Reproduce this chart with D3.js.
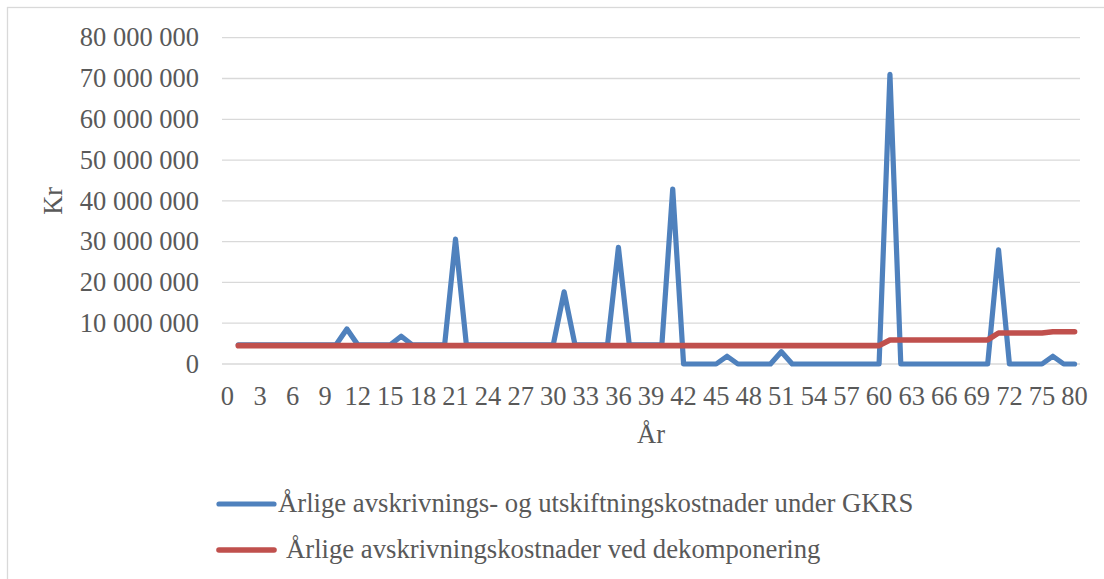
<!DOCTYPE html>
<html>
<head>
<meta charset="utf-8">
<script src="https://cdn.jsdelivr.net/npm/d3@7/dist/d3.min.js"></script>
<style>
  html, body { margin: 0; padding: 0; background: #fff; }
  text { font-family: "Liberation Serif", "Times New Roman", serif; fill: #595959; }
</style>
</head>
<body>
<svg id="chart" width="1104" height="579"></svg>
<script>
// Year labels on the category axis
const years = [
  0, 1, 2, 3, 4, 5, 6, 7, 8, 9, 10, 11, 12, 13, 14, 15, 16, 17, 18, 19,
  20, 21, 22, 23, 24, 25, 26, 27, 28, 29, 30, 31, 32, 33, 34, 35, 36, 37, 38, 39,
  40, 41, 42, 43, 44, 45, 46, 47, 48, 49, 50, 51, 52, 53, 54, 55, 56, 57, 58, 59,
  60, 61, 62, 63, 64, 65, 66, 67, 68, 69, 70, 71, 72, 73, 74, 75, 76, 77, 80
];

// Annual depreciation and replacement costs under GKRS (kr)
const gkrs = [
  null, 4700000, 4700000, 4700000, 4700000, 4700000, 4700000, 4700000, 4700000, 4700000,
  4700000, 8600000, 4700000, 4700000, 4700000, 4700000, 6800000, 4700000, 4700000, 4700000,
  4700000, 30600000, 4700000, 4700000, 4700000, 4700000, 4700000, 4700000, 4700000, 4700000,
  4700000, 17700000, 4700000, 4700000, 4700000, 4700000, 28600000, 4700000, 4700000, 4700000,
  4700000, 42900000, 0, 0, 0, 0, 1900000, 0, 0, 0,
  0, 3000000, 0, 0, 0, 0, 0, 0, 0, 0,
  0, 71000000, 0, 0, 0, 0, 0, 0, 0, 0,
  0, 28000000, 0, 0, 0, 0, 1900000, 0, 0
];

// Annual depreciation costs with decomposition (kr)
const dekomp = [
  null, 4500000, 4500000, 4500000, 4500000, 4500000, 4500000, 4500000, 4500000, 4500000,
  4500000, 4500000, 4500000, 4500000, 4500000, 4500000, 4500000, 4500000, 4500000, 4500000,
  4500000, 4500000, 4500000, 4500000, 4500000, 4500000, 4500000, 4500000, 4500000, 4500000,
  4500000, 4500000, 4500000, 4500000, 4500000, 4500000, 4500000, 4500000, 4500000, 4500000,
  4500000, 4500000, 4500000, 4500000, 4500000, 4500000, 4500000, 4500000, 4500000, 4500000,
  4500000, 4500000, 4500000, 4500000, 4500000, 4500000, 4500000, 4500000, 4500000, 4500000,
  4500000, 5900000, 5900000, 5900000, 5900000, 5900000, 5900000, 5900000, 5900000, 5900000,
  5900000, 7600000, 7600000, 7600000, 7600000, 7600000, 7900000, 7900000, 7900000
];

const yTicks = [0, 10000000, 20000000, 30000000, 40000000, 50000000, 60000000, 70000000, 80000000];

const seriesNames = [
  "Årlige avskrivnings- og utskiftningskostnader under GKRS",
  "Årlige avskrivningskostnader ved dekomponering"
];
const seriesColors = ["#4f81bd", "#c0504d"];
const seriesWidths = [5.2, 5.6];

const svg = d3.select("#chart");
const FONT = 26.5;

// outer chart border
svg.append("rect")
  .attr("x", 7.5).attr("y", 7.5)
  .attr("width", 1120).attr("height", 600)
  .attr("fill", "#fff")
  .attr("stroke", "#d9d9d9").attr("stroke-width", 1.3);

const plot = { left: 222, right: 1080, top: 37.7, bottom: 364 };

const x = d3.scalePoint()
  .domain(d3.range(years.length))
  .range([plot.left, plot.right])
  .padding(0.5);

const y = d3.scaleLinear()
  .domain([0, 80000000])
  .range([plot.bottom, plot.top]);

const nb = d3.formatLocale({ decimal: ",", thousands: "\u00a0", grouping: [3], currency: ["", " kr"] });
const fmt = nb.format(",d");

// horizontal gridlines
svg.append("g").selectAll("line")
  .data(yTicks)
  .join("line")
  .attr("x1", plot.left).attr("x2", plot.right)
  .attr("y1", d => y(d)).attr("y2", d => y(d))
  .attr("stroke", "#d9d9d9").attr("stroke-width", 1.3);

// y tick labels
svg.append("g").selectAll("text")
  .data(yTicks)
  .join("text")
  .attr("x", 199)
  .attr("y", d => y(d) + FONT * 0.33)
  .attr("text-anchor", "end")
  .attr("font-size", FONT)
  .text(d => fmt(d));

// x tick labels (every third category)
const xTickIdx = d3.range(0, years.length, 3);
svg.append("g").selectAll("text")
  .data(xTickIdx)
  .join("text")
  .attr("x", i => x(i))
  .attr("y", 405)
  .attr("text-anchor", "middle")
  .attr("font-size", FONT)
  .text(i => years[i]);

// axis titles
svg.append("text")
  .attr("x", (plot.left + plot.right) / 2)
  .attr("y", 443)
  .attr("text-anchor", "middle")
  .attr("font-size", FONT)
  .text("År");

svg.append("text")
  .attr("transform", `translate(62, ${(plot.top + plot.bottom) / 2}) rotate(-90)`)
  .attr("text-anchor", "middle")
  .attr("font-size", FONT)
  .text("Kr");

// series lines
const line = d3.line()
  .defined(d => d != null)
  .x((d, i) => x(i))
  .y(d => y(d));

[gkrs, dekomp].forEach((vals, s) => {
  svg.append("path")
    .datum(vals)
    .attr("d", line)
    .attr("fill", "none")
    .attr("stroke", seriesColors[s])
    .attr("stroke-width", seriesWidths[s])
    .attr("stroke-linejoin", "round")
    .attr("stroke-linecap", "round");
});

// legend
const legendItems = [
  { y: 504, textX: 278, baseline: 512 },
  { y: 550, textX: 286, baseline: 558 }
];
legendItems.forEach((it, s) => {
  svg.append("line")
    .attr("x1", 219).attr("x2", 274)
    .attr("y1", it.y).attr("y2", it.y)
    .attr("stroke", seriesColors[s])
    .attr("stroke-width", seriesWidths[s])
    .attr("stroke-linecap", "round");
  svg.append("text")
    .attr("x", it.textX)
    .attr("y", it.baseline)
    .attr("font-size", 26.7)
    .text(seriesNames[s]);
});
</script>
</body>
</html>
